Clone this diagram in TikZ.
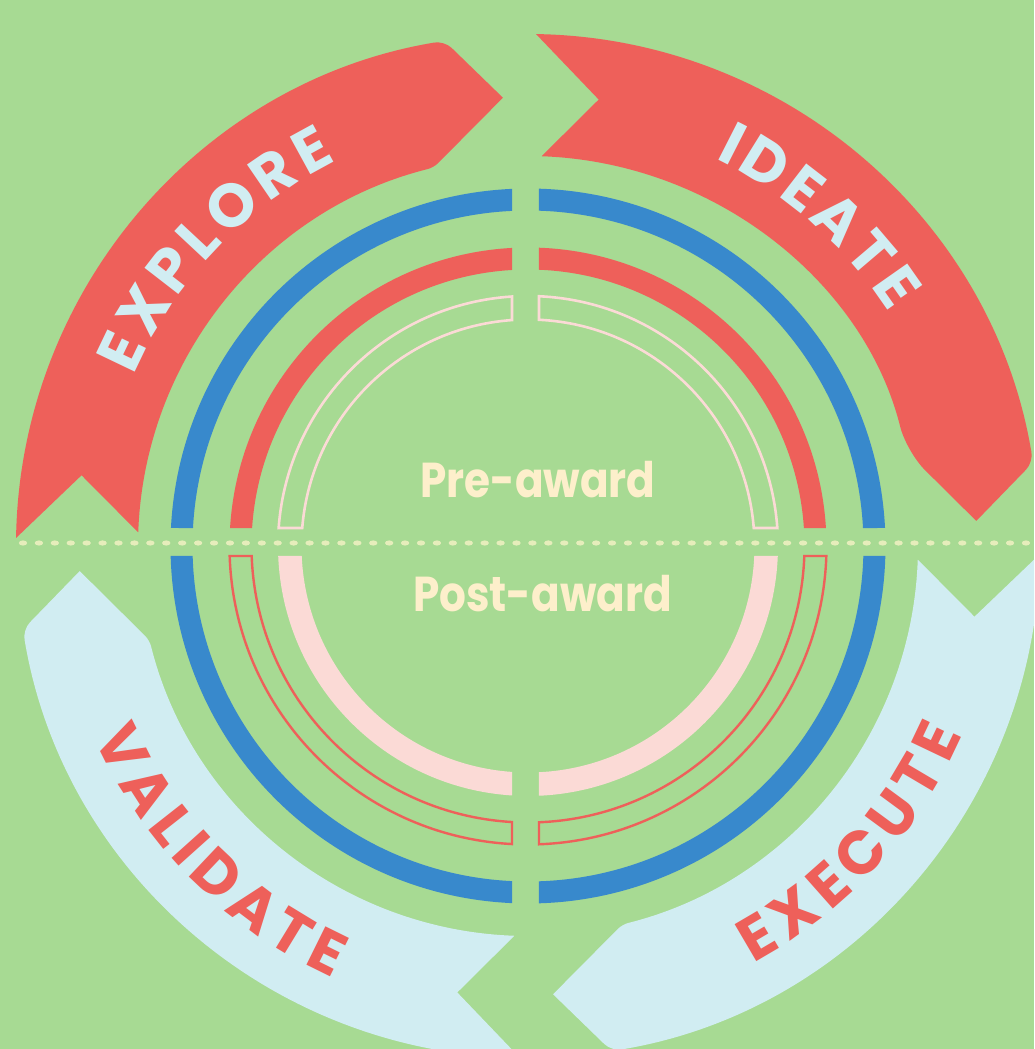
\documentclass[tikz,border=0pt]{standalone}
\usepackage{fontspec}
\usetikzlibrary{decorations.text}

\newfontfamily\labelfont{Poppins Bold}
\newcommand{\ribbonfont}{\labelfont\fontsize{61}{62}\selectfont}

\definecolor{meadow}{HTML}{A7DA93}
\definecolor{flame}{HTML}{EE605A}
\definecolor{ocean}{HTML}{3889CC}
\definecolor{mist}{HTML}{D1EDF2}
\definecolor{blush}{HTML}{FBDAD6}
\definecolor{cream}{HTML}{FDEFCB}
\definecolor{pearl}{HTML}{E6EDBB}

\begin{document}
\begin{tikzpicture}[x=1pt,y=1pt,
    blueband/.style={fill=ocean},
    redband/.style={fill=flame},
    redline/.style={draw=flame,line width=2.4},
    pinkband/.style={fill=blush},
    pinkline/.style={draw=blush,line width=2.6},
    phase/.style={text=cream,anchor=base,inner sep=0,xscale=0.86,
        font=\labelfont\fontsize{49}{50}\selectfont},
    ribbon text/.style 2 args={decorate,decoration={text along path,
        text align=fit to path,text color=#1,text={|\ribbonfont|#2}}},
    declare function={cuttop(\r)=asin(18/\r); cutbot(\r)=asin(10/\r);
        cutl(\r)=asin(16/\r); cutr(\r)=asin(11/\r);}]

  \useasboundingbox (-528,-503) rectangle (506,546);
  \fill[meadow] (-528,-503) rectangle (506,546);
  \clip (-528,-503) rectangle (506,546);

  % the four ribbons, tail notch first, arrow head last
  \foreach \a/\tone/\bend in {180/flame/6, 90/flame/26, 0/mist/6, -90/mist/6}
    \fill[\tone] (\a-0.9:512) -- (\a-9:452) -- (\a-2:390)
      [rounded corners=\bend] arc[start angle=\a-2, end angle=\a-76, radius=390]
      [sharp corners] -- (\a-86.8:449)
      [rounded corners=10] -- (\a-80.6:512)
      [sharp corners] arc[start angle=\a-80.6, end angle=\a-0.9, radius=512] -- cycle;

  % rings: inner radius / outer radius / upper half / lower half
  \foreach \ri/\ro/\topstyle/\botstyle in {335.5/357.5/blueband/blueband,
      276.5/298.5/redband/redline, 226.5/250/pinkline/pinkband}{
    \path[\topstyle] ({180-cuttop(\ro)}:\ro) arc[start angle={180-cuttop(\ro)}, end angle={90+cutl(\ro)}, radius=\ro]
      -- ({90+cutl(\ri)}:\ri) arc[start angle={90+cutl(\ri)}, end angle={180-cuttop(\ri)}, radius=\ri] -- cycle;
    \path[\topstyle] ({cuttop(\ro)}:\ro) arc[start angle={cuttop(\ro)}, end angle={90-cutr(\ro)}, radius=\ro]
      -- ({90-cutr(\ri)}:\ri) arc[start angle={90-cutr(\ri)}, end angle={cuttop(\ri)}, radius=\ri] -- cycle;
    \path[\botstyle] ({180+cutbot(\ro)}:\ro) arc[start angle={180+cutbot(\ro)}, end angle={270-cutl(\ro)}, radius=\ro]
      -- ({270-cutl(\ri)}:\ri) arc[start angle={270-cutl(\ri)}, end angle={180+cutbot(\ri)}, radius=\ri] -- cycle;
    \path[\botstyle] ({-cutbot(\ro)}:\ro) arc[start angle={-cutbot(\ro)}, end angle={-90+cutr(\ro)}, radius=\ro]
      -- ({-90+cutr(\ri)}:\ri) arc[start angle={-90+cutr(\ri)}, end angle={-cutbot(\ri)}, radius=\ri] -- cycle;
  }

  % dotted divider
  \foreach \i in {0,...,63}
    \fill[pearl] (-505+15.92*\i,3) ellipse[x radius=4.2, y radius=2.6];

  \node[phase] (pre) at (10,48) {Pre-award};
  \node[phase] (post) at (14.5,-66) {Post-award};

  % ribbon labels
  \path[ribbon text={mist}{EXPLORE}] (156.6:430) arc[start angle=156.6, end angle=116.5, radius=430];
  \path[ribbon text={mist}{IDEATE}] (64.2:430) arc[start angle=64.2, end angle=32.9, radius=430];
  \path[ribbon text={flame}{EXECUTE}] (-61.6:474) arc[start angle=-61.6, end angle=-23.5, radius=474];
  \path[ribbon text={flame}{VALIDATE}] (203.8:474) arc[start angle=203.8, end angle=245.7, radius=474];
\end{tikzpicture}
\end{document}
